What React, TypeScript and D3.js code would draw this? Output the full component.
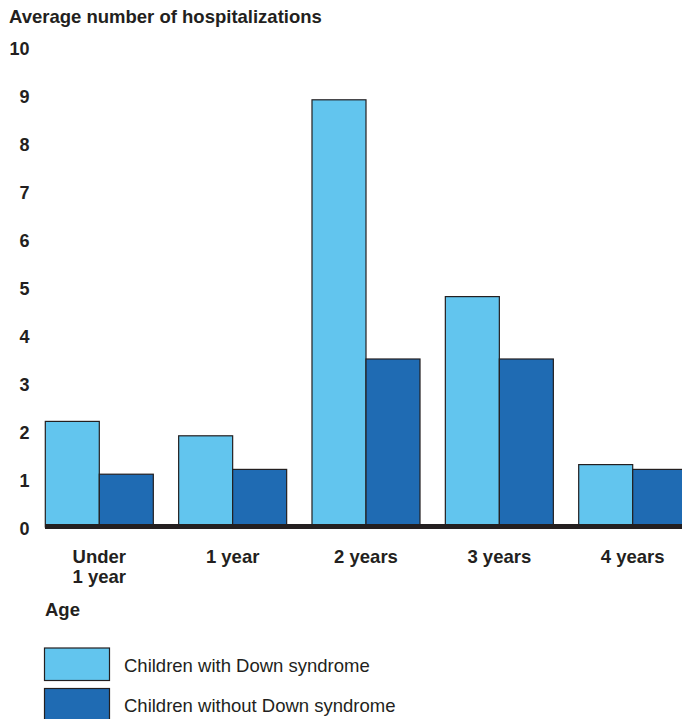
import React from "react";
import * as d3 from "d3";

const ageGroups = ["Under\n1 year", "1 year", "2 years", "3 years", "4 years"];
const withDown = [2.2, 1.9, 8.9, 4.8, 1.3];
const withoutDown = [1.1, 1.2, 3.5, 3.5, 1.2];
const seriesNames = ["Children with Down syndrome", "Children without Down syndrome"];
const seriesColors = ["#62c5ee", "#1f6bb3"];
const yTicks = [0, 1, 2, 3, 4, 5, 6, 7, 8, 9, 10];

const W = 682;
const H = 719;
const INK = "#231f20";
const FONT = "'Liberation Sans', Arial, Helvetica, sans-serif";
const FS = 18.5;

export default function App() {
  const x = d3
    .scaleBand<string>()
    .domain(ageGroups)
    .range([45.3, 686.7])
    .paddingInner(0.19)
    .paddingOuter(0);
  const sub = d3
    .scaleBand<number>()
    .domain([0, 1])
    .range([0, x.bandwidth()])
    .padding(0);
  const y = d3.scaleLinear().domain([0, 10]).range([527, 47]);

  const series = [withDown, withoutDown];

  return (
    <svg
      width={W}
      height={H}
      viewBox={`0 0 ${W} ${H}`}
      style={{ position: "absolute", left: 0, top: 0, background: "#fff" }}
      fontFamily={FONT}
    >
      <rect x={0} y={0} width={W} height={H} fill="#fff" />
      <text x={9} y={23} fontSize={FS} fontWeight="bold" fill={INK}>
        Average number of hospitalizations
      </text>

      {yTicks.map((t) => (
        <text
          key={t}
          x={29.5}
          y={y(t) + 7.5}
          textAnchor="end"
          fontSize={18}
          fontWeight="bold"
          fill={INK}
        >
          {t}
        </text>
      ))}

      {ageGroups.map((g, i) => (
        <g key={g} transform={`translate(${x(g)},0)`}>
          {series.map((vals, s) => (
            <rect
              key={s}
              x={sub(s)}
              y={y(vals[i])}
              width={sub.bandwidth()}
              height={y(0) - y(vals[i])}
              fill={seriesColors[s]}
              stroke={INK}
              strokeWidth={1.2}
            />
          ))}
        </g>
      ))}

      <line x1={45} x2={W} y1={y(0) - 0.5} y2={y(0) - 0.5} stroke={INK} strokeWidth={5} />

      {ageGroups.map((g) => {
        const cx = (x(g) as number) + x.bandwidth() / 2;
        const lines = g.split("\n");
        return (
          <text
            key={g}
            x={cx}
            y={562.5}
            textAnchor="middle"
            fontSize={FS}
            fontWeight="bold"
            fill={INK}
          >
            {lines.map((ln, k) => (
              <tspan key={k} x={cx} dy={k === 0 ? 0 : 20}>
                {ln}
              </tspan>
            ))}
          </text>
        );
      })}

      <text x={45} y={615.5} fontSize={FS} fontWeight="bold" fill={INK}>
        Age
      </text>

      {seriesNames.map((name, s) => (
        <g key={name} transform={`translate(0,${648 + s * 40.5})`}>
          <rect
            x={44.5}
            y={0}
            width={65}
            height={32.5}
            fill={seriesColors[s]}
            stroke={INK}
            strokeWidth={1.2}
          />
          <text x={124} y={23.5} fontSize={FS} fill={INK}>
            {name}
          </text>
        </g>
      ))}
    </svg>
  );
}
